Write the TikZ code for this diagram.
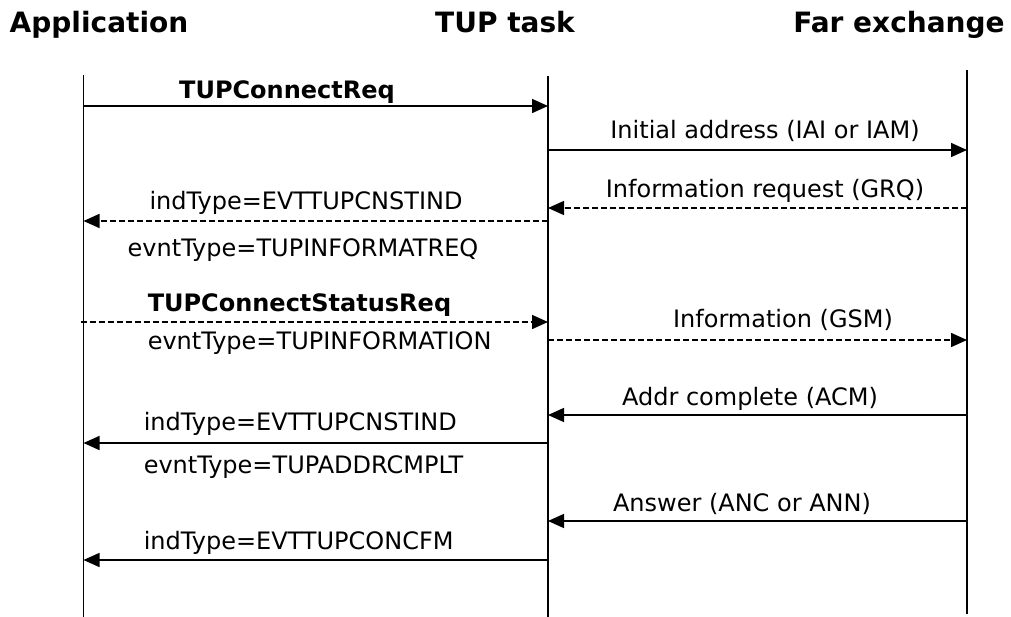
\documentclass[tikz,border=0pt]{standalone}
\usepackage{fontspec}
\setmainfont{DejaVu Sans}
\usetikzlibrary{arrows.meta}
\usetikzlibrary{positioning}
\tikzset{every picture/.style={line width=1.5pt, >={Triangle[length=16pt,width=14pt]}}}
\tikzset{msglabel/.style={inner sep=0pt, anchor=base, font=\fontsize{24}{28}\selectfont}}
\tikzset{msgleft/.style={msglabel, anchor=base west}}
\tikzset{header/.style={inner sep=0pt, anchor=base, font=\fontsize{28}{32}\selectfont\bfseries}}
\tikzset{reply/.style={dash pattern=on 6pt off 3pt}}
\begin{document}
\begin{tikzpicture}[x=1pt,y=-1pt]
    \useasboundingbox (0,0) rectangle (1011,617);
    \node[header] (app) at (99,33) {Application};
    \node[header] (tup) at (505,33) {TUP task};
    \node[header] (far) at (899,33) {Far exchange};
    % lifelines
    \coordinate (appTop) at (83.5,75);
    \coordinate (appBot) at (83.5,617);
    \coordinate (tupTop) at (548,76);
    \coordinate (tupBot) at (548,617);
    \coordinate (farTop) at (967,70);
    \coordinate (farBot) at (967,614);
    \draw (appTop) -- (appBot);
    \draw (tupTop) -- (tupBot);
    \draw (farTop) -- (farBot);
    % message levels
    \foreach \n/\y in {1/106,2/150,3/208,4/221,5/322,6/340,7/415,8/443,9/521,10/560} {
        \coordinate (app\n) at (83.5,\y);
        \coordinate (tup\n) at (548,\y);
        \coordinate (far\n) at (967,\y);
    }
    \draw[->] (app1) -- (tup1);
    \node[msglabel] (l1) at (287,99) {\bfseries TUPConnectReq};
    \draw[->] (tup2) -- (far2);
    \node[msglabel] (l2) at (765,139) {Initial address (IAI or IAM)};
    \draw[->,reply] (far3) -- (tup3);
    \node[msglabel] (l3) at (765,198) {Information request (GRQ)};
    \draw[->,reply] (tup4) -- (app4);
    \node[msglabel] (l4) at (306,210) {indType=EVTTUPCNSTIND};
    \node[msglabel] (l4b) at (303,257) {evntType=TUPINFORMATREQ};
    \draw[->,reply] ([xshift=-3pt]app5) -- (tup5);
    \node[msgleft] (l5) at (147,312) {\bfseries TUPConnectStatusReq};
    \node[msgleft] (l5b) at (147,349) {evntType=TUPINFORMATION};
    \draw[->,reply] (tup6) -- (far6);
    \node[msglabel] (l6) at (783,327) {Information (GSM)};
    \draw[->] (far7) -- (tup7);
    \node[msglabel] (l7) at (750,405) {Addr complete (ACM)};
    \draw[->] (tup8) -- (app8);
    \node[msgleft] (l8) at (143,430) {indType=EVTTUPCNSTIND};
    \node[msgleft] (l8b) at (143,473) {evntType=TUPADDRCMPLT};
    \draw[->] (far9) -- (tup9);
    \node[msglabel] (l9) at (742,511) {Answer (ANC or ANN)};
    \draw[->] (tup10) -- (app10);
    \node[msgleft] (l10) at (143,549) {indType=EVTTUPCONCFM};
\end{tikzpicture}
\end{document}
